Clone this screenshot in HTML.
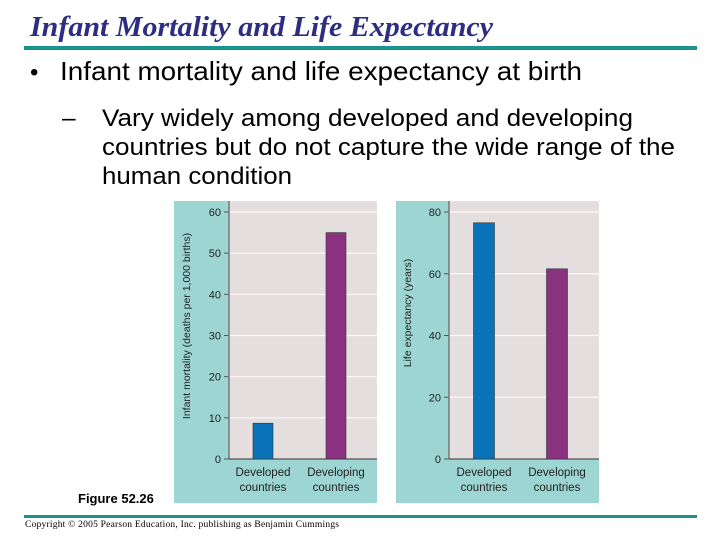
<!DOCTYPE html>
<html><head><meta charset="utf-8"><style>
html,body{margin:0;padding:0;background:#fff;width:720px;height:540px;overflow:hidden}
svg{display:block}
</style></head><body>
<svg width="720" height="540" viewBox="0 0 720 540" xmlns="http://www.w3.org/2000/svg">
<text x="30" y="36" font-family="Liberation Serif, serif" font-style="italic" font-weight="bold" font-size="29" textLength="463" lengthAdjust="spacingAndGlyphs" fill="#2d2d82">Infant Mortality and Life Expectancy</text>
<rect x="24" y="46" width="673" height="4" fill="#1b9390"/>
<text x="30" y="80" font-family="Liberation Sans, sans-serif" font-size="24" fill="#000">•</text>
<text x="60" y="80" font-family="Liberation Sans, sans-serif" font-size="26" textLength="522" lengthAdjust="spacingAndGlyphs" fill="#000">Infant mortality and life expectancy at birth</text>
<g font-family="Liberation Sans, sans-serif" font-size="24.5" fill="#000">
<text x="62" y="126">–</text>
<text x="102" y="126" textLength="531" lengthAdjust="spacingAndGlyphs">Vary widely among developed and developing</text>
<text x="102" y="155" textLength="573" lengthAdjust="spacingAndGlyphs">countries but do not capture the wide range of the</text>
<text x="102" y="184" textLength="190" lengthAdjust="spacingAndGlyphs">human condition</text>
</g>
<g id="charts" font-family="Liberation Sans, sans-serif"></g>
<text x="78" y="503" font-family="Liberation Sans, sans-serif" font-weight="bold" font-size="13" fill="#000">Figure 52.26</text>
<rect x="24" y="515" width="673" height="3" fill="#1b9390"/>
<text x="25" y="527" font-family="Liberation Serif, serif" font-size="9.5" textLength="314" fill="#000">Copyright © 2005 Pearson Education, Inc. publishing as Benjamin Cummings</text>
</svg>
<script>
const categories = ["Developed countries", "Developing countries"];
const mortalityValues = [8.7, 55];
const lifeValues = [76.5, 61.6];
const mortalityTicks = [0, 10, 20, 30, 40, 50, 60];
const lifeTicks = [0, 20, 40, 60, 80];
const barColors = ["#0a72b8", "#8a3280"];
const NS = "http://www.w3.org/2000/svg";
const root = document.getElementById("charts");
function mk(tag, attrs, parent) {
  const e = document.createElementNS(NS, tag);
  for (const k in attrs) e.setAttribute(k, attrs[k]);
  (parent || root).appendChild(e);
  return e;
}
function drawPanel(cfg) {
  const g = mk("g", {});
  
  
  const bg = mk("rect", {x: cfg.px, y: 201, width: 203, height: 302, fill: "#9dd5d3"}, g);
  
  
  const plot = mk("rect", {x: cfg.ax, y: 201, width: cfg.px + 203 - cfg.ax, height: 258, fill: "#e4dfde"}, g);
  
  
  const y0 = 459, yTop = 212;
  const yScale = v => y0 - (v / cfg.max) * (y0 - yTop);
  cfg.ticks.forEach(t => {
    const y = yScale(t);
    if (t > 0) {
      const gl = mk("line", {x1: cfg.ax, x2: cfg.px + 203, y1: y, y2: y, stroke: "#fafafa", "stroke-width": 1.2}, g);
      
      
    }
    const tk = mk("line", {x1: cfg.ax - 5, x2: cfg.ax, y1: y, y2: y, stroke: "#555", "stroke-width": 1}, g);
    
    
    const tl = mk("text", {x: cfg.ax - 8, y: y + 4, "text-anchor": "end", "font-size": 11, fill: "#222"}, g);
    tl.textContent = t;
    
    
  });
  const axis = mk("line", {x1: cfg.ax, x2: cfg.ax, y1: 201, y2: y0, stroke: "#777", "stroke-width": 1.5}, g);
  
  
  const base = mk("line", {x1: cfg.ax, x2: cfg.px + 203, y1: y0, y2: y0, stroke: "#333", "stroke-width": 1}, g);
  
  
  cfg.values.forEach((v, i) => {
    const cx = cfg.centers[i];
    const b = mk("rect", {x: cx - cfg.bw / 2, y: yScale(v), width: cfg.bw, height: y0 - yScale(v), fill: barColors[i], stroke: "#333", "stroke-width": 0.6}, g);
    
    
    const words = categories[i].split(" ");
    words.forEach((w, j) => {
      const tl = mk("text", {x: cx, y: 476 + j * 15, "text-anchor": "middle", "font-size": 11.5, fill: "#222"}, g);
      tl.textContent = w;
      
      
    });
  });
  const yt = mk("text", {x: 0, y: 0, "text-anchor": "middle", "font-size": 10.5, fill: "#222", transform: `translate(${cfg.tx},${cfg.ty}) rotate(-90)`}, g);
  yt.textContent = cfg.title;
  
  
}
drawPanel({name: "infant-mortality-chart", px: 174, ax: 229, max: 60, ticks: mortalityTicks, values: mortalityValues, centers: [263, 336], bw: 20, title: "Infant mortality (deaths per 1,000 births)", tx: 190, ty: 326});
drawPanel({name: "life-expectancy-chart", px: 396, ax: 449, max: 80, ticks: lifeTicks, values: lifeValues, centers: [484, 557], bw: 21, title: "Life expectancy (years)", tx: 411, ty: 313});
</script>
</body></html>
